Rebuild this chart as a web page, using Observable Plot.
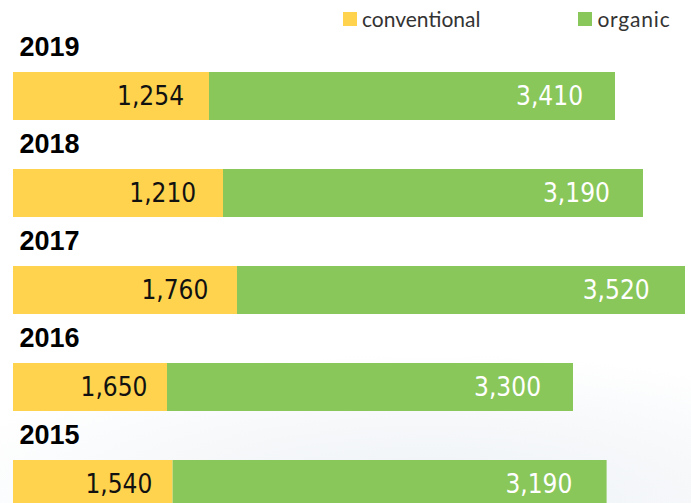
<!DOCTYPE html>
<html>
<head>
<meta charset="utf-8">
<script src="https://cdn.jsdelivr.net/npm/d3@7"></script>
<script src="https://cdn.jsdelivr.net/npm/@observablehq/plot@0.6"></script>
<style>
  html, body { margin: 0; padding: 0; }
  body {
    width: 691px; height: 503px; overflow: hidden; position: relative;
    background: radial-gradient(ellipse 75% 30% at 62% 100%, #eef2f6 0%, #f6f8fa 55%, #ffffff 100%);
  }
  #chart { position: absolute; left: 0; top: 0; }
  #legend {
    position: absolute; top: 6px; left: 343px;
    font-family: Lato, "Open Sans", sans-serif; font-size: 21px; color: #333;
    display: flex; align-items: center;
  }
  #legend .item { display: flex; align-items: center; }
  #legend .sw { width: 14px; height: 14px; display: inline-block; margin-right: 5px; }
</style>
</head>
<body>
<div id="chart"></div>
<div id="legend"></div>
<script>
// Data
const years = [2019, 2018, 2017, 2016, 2015];
const conventional = [1254, 1210, 1760, 1650, 1540];
const organic = [3410, 3190, 3520, 3300, 3190];
const seriesNames = ["conventional", "organic"];
const colors = ["#FFD34E", "#8AC75A"];

// In the original graphic, the bar lengths run in the reverse year order
// of the printed labels (row 2019 has the 2015 bar, etc.).
const rows = years.map((year, i) => {
  const j = years.length - 1 - i;
  return {
    year,
    conv: conventional[j],
    org: organic[j],
    convLabel: conventional[i],
    orgLabel: organic[i]
  };
});

const fmt = d3.format(",");
const valueFont = "'DejaVu Sans Condensed', 'Liberation Sans Narrow', sans-serif";

const chart = Plot.plot({
  width: 691,
  height: 503,
  margin: 0,
  style: { background: "transparent", overflow: "visible" },
  x: { domain: [0, 5280], range: [13, 685], axis: null },
  y: { domain: years.map(String), range: [70, 508.75], paddingInner: 0.508, paddingOuter: 0, axis: null },
  marks: [
    Plot.barX(rows, { y: d => String(d.year), x1: 0, x2: "conv", fill: colors[0] }),
    Plot.barX(rows, { y: d => String(d.year), x1: "conv", x2: d => d.conv + d.org, fill: colors[1] }),
    Plot.text(rows, {
      y: d => String(d.year), x: d => d.conv * 0.87, text: d => fmt(d.convLabel),
      textAnchor: "end", fill: "#111", fontFamily: valueFont, fontSize: 26
    }),
    Plot.text(rows, {
      y: d => String(d.year), x: d => d.conv + d.org * 0.92, text: d => fmt(d.orgLabel),
      textAnchor: "end", fill: "#ffffff", fontFamily: valueFont, fontSize: 26
    }),
    Plot.text(rows, {
      y: d => String(d.year), x: 0, text: d => String(d.year),
      textAnchor: "start", dx: 6, dy: -49, fill: "#000",
      fontFamily: "'Liberation Sans', Arial, sans-serif", fontWeight: "bold", fontSize: 27
    })
  ]
});
document.getElementById("chart").appendChild(chart);

const legend = document.getElementById("legend");
seriesNames.forEach((name, i) => {
  const item = document.createElement("div");
  item.className = "item";
  if (i > 0) item.style.marginLeft = "98px";
  const sw = document.createElement("span");
  sw.className = "sw";
  sw.style.background = colors[i];
  const label = document.createElement("span");
  label.textContent = name;
  if (i > 0) label.style.letterSpacing = "0.8px";
  item.appendChild(sw);
  item.appendChild(label);
  legend.appendChild(item);
});
</script>
</body>
</html>
